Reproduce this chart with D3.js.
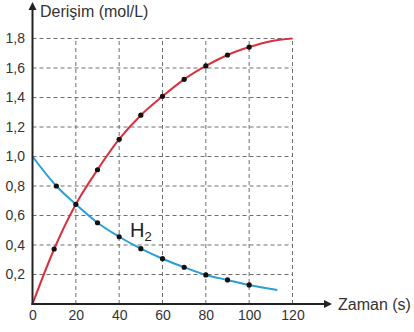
<!DOCTYPE html>
<html><head><meta charset="utf-8">
<script src="https://cdn.jsdelivr.net/npm/d3@7"></script>
<style>
html,body{margin:0;padding:0;background:#fff;}
svg{display:block;font-family:"Liberation Sans",Arial,Helvetica,sans-serif;}
</style></head>
<body>
<svg id="chart" width="414" height="332"></svg>
<script>
// Data
const xTicks = [0, 20, 40, 60, 80, 100, 120];
const yTicks = [0.2, 0.4, 0.6, 0.8, 1.0, 1.2, 1.4, 1.6, 1.8];
const redTimes  = [0, 10, 20, 30, 40, 50, 60, 70, 80, 90, 100, 110, 120];
const redValues = [0, 0.373, 0.676, 0.91, 1.117, 1.28, 1.408, 1.523, 1.614, 1.688, 1.742, 1.782, 1.8];
const redDotTimes = [10, 20, 30, 40, 50, 60, 70, 80, 90, 100];
const blueTimes  = [0, 11, 20, 30, 40, 50, 60, 70, 80, 90, 100, 113];
const blueValues = [1.0, 0.8, 0.676, 0.551, 0.456, 0.375, 0.307, 0.249, 0.197, 0.163, 0.129, 0.095];
const blueDotTimes = [11, 30, 40, 50, 60, 70, 80, 90, 100];
const yTitle = "Derişim (mol/L)";
const xTitle = "Zaman (s)";
const seriesLabel = "H";
const seriesSub = "2";

const svg = d3.select("#chart");
const x = d3.scaleLinear().domain([0, 120]).range([32.5, 292.5]);
const y = d3.scaleLinear().domain([0, 1.8]).range([304, 38.5]);
const fmt = d => d3.format(".1f")(d).replace(".", ",");

// grid
const grid = svg.append("g").attr("stroke", "#6e6e6e").attr("stroke-width", 1).attr("stroke-dasharray", "4,3");
xTicks.filter(t => t > 0).forEach(t => {
  grid.append("line").attr("x1", x(t)).attr("x2", x(t)).attr("y1", y(0)).attr("y2", y(1.8));
});
yTicks.forEach(t => {
  grid.append("line").attr("x1", x(0)).attr("x2", x(120)).attr("y1", y(t)).attr("y2", y(t));
});

// axes tick labels
const gx = svg.append("g").attr("transform", `translate(0,${y(0)})`)
  .call(d3.axisBottom(x).tickValues(xTicks).tickSize(0).tickPadding(6).tickFormat(d3.format("d")));
gx.select(".domain").remove();
const gy = svg.append("g").attr("transform", `translate(${x(0)},0)`)
  .call(d3.axisLeft(y).tickValues(yTicks).tickSize(0).tickPadding(7.5).tickFormat(fmt));
gy.select(".domain").remove();
svg.selectAll(".tick text").attr("font-size", 14).attr("fill", "#333")
  .attr("font-family", "'Liberation Sans',Arial,sans-serif");

// curves
const line = d3.line().x(d => x(d[0])).y(d => y(d[1])).curve(d3.curveMonotoneX);
const redData = redTimes.map((t, i) => [t, redValues[i]]);
const blueData = blueTimes.map((t, i) => [t, blueValues[i]]);
svg.append("path").datum(blueData).attr("d", line).attr("fill", "none")
  .attr("stroke", "#2a9fd4").attr("stroke-width", 2);
svg.append("path").datum(redData).attr("d", line).attr("fill", "none")
  .attr("stroke", "#d9303c").attr("stroke-width", 2);

// dots
const dots = redData.filter(d => redDotTimes.includes(d[0]))
  .concat(blueData.filter(d => blueDotTimes.includes(d[0])));
svg.append("g").selectAll("circle").data(dots).join("circle")
  .attr("cx", d => x(d[0])).attr("cy", d => y(d[1])).attr("r", 2.6).attr("fill", "#111");

// axis lines with arrows
const ax = svg.append("g").attr("stroke", "#222").attr("stroke-width", 2).attr("fill", "none");
ax.append("line").attr("x1", x(0)).attr("x2", x(0)).attr("y1", y(0) + 1).attr("y2", 8);
ax.append("line").attr("x1", x(0) - 1).attr("x2", 326).attr("y1", y(0)).attr("y2", y(0));
svg.append("path").attr("fill", "#222")
  .attr("d", `M${x(0)},2 L${x(0) - 4},10 L${x(0) + 4},10 Z`);
svg.append("path").attr("fill", "#222")
  .attr("d", `M332,${y(0)} L324,${y(0) - 4} L324,${y(0) + 4} Z`);

// titles
svg.append("text").attr("x", 40).attr("y", 17).attr("font-size", 16).attr("fill", "#333").text(yTitle);
svg.append("text").attr("x", 338).attr("y", 310).attr("font-size", 16).attr("fill", "#333").text(xTitle);

// series label
const lab = svg.append("text").attr("x", 130).attr("y", 237).attr("font-size", 20).attr("fill", "#222");
lab.append("tspan").text(seriesLabel);
lab.append("tspan").attr("font-size", 13).attr("dy", 4).text(seriesSub);
</script>
</body></html>
